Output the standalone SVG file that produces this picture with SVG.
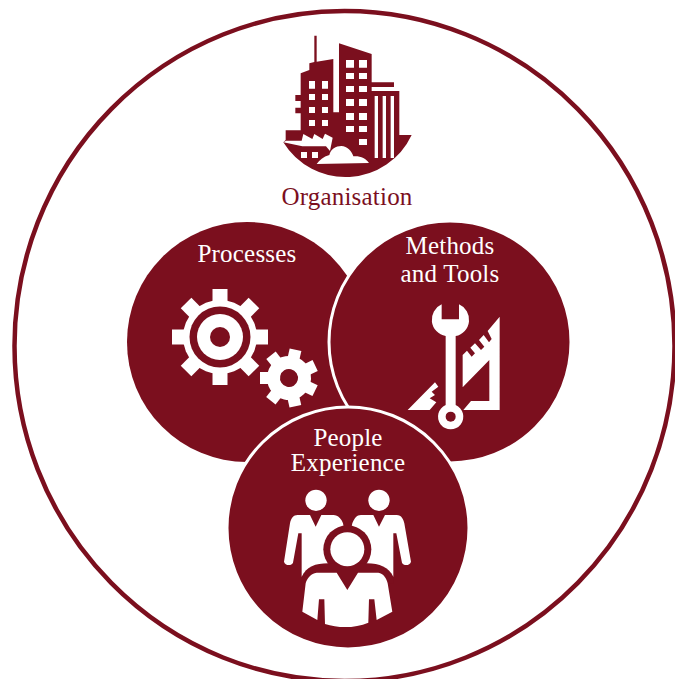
<svg xmlns="http://www.w3.org/2000/svg" width="675" height="679" viewBox="0 0 675 679">
<style>
.lbl{font-family:"Liberation Serif","DejaVu Serif",serif;font-size:25px;letter-spacing:.2px;text-anchor:middle}
.w{fill:#fff}.d{fill:#7b0f1e}
</style>
<rect width="675" height="679" fill="#fff"/>
<g id="organisation">
<ellipse cx="344.500" cy="346" rx="330" ry="335" fill="none" stroke="#7b0f1e" stroke-width="4.500"/>
<g transform="translate(270 25) scale(.3333)">
<path class="d" d="M92 145L118 135V115L133 111V32H140V110L190 102V262H207V55L305 87V172H372V186H305V198H388V330H425A219 219 0 0 1 40 352L47 345V316H92V265H76V248H92V228H76V210H92Z"/>
<path class="w" d="M40 352L48 347L95 347L100 327L127 342L133 327L158 342L165 326L188 338L180 378L168 364H97Z"/>
<path class="w" d="M140 417C148 405 160 395 178 390C182 372 198 363 214 363C232 364 245 378 250 394C270 392 288 400 297 414Z"/>
<path class="w" d="M228 105h24v23h-24zM267 105h24v23h-24zM228 144h24v18h-24zM267 144h24v18h-24zM228 183h24v18h-24zM267 183h24v18h-24zM228 222h24v21h-24zM267 222h24v21h-24zM228 264h24v21h-24zM267 264h24v21h-24zM228 303h24v18h-24zM267 303h24v18h-24zM267 342h24v18h-24z"/>
<path class="w" d="M117 168h18v23h-18zM156 168h18v23h-18zM117 207h18v18h-18zM156 207h18v18h-18zM117 246h18v18h-18zM156 246h18v18h-18zM117 285h18v18h-18zM156 285h18v18h-18zM93 381h18v18h-18zM126 381h18v18h-18z"/>
<path class="w" d="M314 213h10v186h-10zM338 213h10v186h-10zM362 213h10v186h-10z"/>
</g>
<text class="lbl d" x="347" y="205">Organisation</text>
</g>
<g id="processes">
<circle cx="247" cy="342" r="120" class="d"/>
<text class="lbl w" x="247" y="262">Processes</text>
<g transform="translate(220 337)">
<circle r="37" class="w"/>
<g class="w"><path d="M-7.500-48h15v14h-15z"/><path d="M-7.500-48h15v14h-15z" transform="rotate(45)"/><path d="M-7.500-48h15v14h-15z" transform="rotate(90)"/><path d="M-7.500-48h15v14h-15z" transform="rotate(135)"/><path d="M-7.500-48h15v14h-15z" transform="rotate(180)"/><path d="M-7.500-48h15v14h-15z" transform="rotate(225)"/><path d="M-7.500-48h15v14h-15z" transform="rotate(270)"/><path d="M-7.500-48h15v14h-15z" transform="rotate(315)"/></g>
<circle r="30.500" class="d"/><circle r="23" class="w"/><circle r="10" class="d"/>
</g>
<g transform="translate(289 378) rotate(13)">
<circle r="22" class="w"/>
<g class="w"><path d="M-6-29h12v10h-12z"/><path d="M-6-29h12v10h-12z" transform="rotate(51.400)"/><path d="M-6-29h12v10h-12z" transform="rotate(102.900)"/><path d="M-6-29h12v10h-12z" transform="rotate(154.300)"/><path d="M-6-29h12v10h-12z" transform="rotate(205.700)"/><path d="M-6-29h12v10h-12z" transform="rotate(257.100)"/><path d="M-6-29h12v10h-12z" transform="rotate(308.600)"/></g>
<circle r="9" class="d"/>
</g>
</g>
<g id="methods">
<circle cx="450" cy="342" r="121" class="d" stroke="#fff" stroke-width="3"/>
<text class="lbl w" x="450" y="254">Methods</text>
<text class="lbl w" x="450" y="282">and Tools</text>
<g transform="translate(395 295) scale(.3333)">
<path class="w" d="M314 65V345H205L228 318H283V195L203 277V180L216 167 230 185 240 175 226 158 240 145 258 165 268 155 252 135 266 120 282 142 290 132 278 108ZM38 345L120 262 130 275 110 290 120 300 104 310 124 322 104 345Z"/>
<path class="w" d="M152 120H182V330A38 38 0 1 1 152 330Z"/>
<path class="w" d="M140 28V73H192V28A50 50 0 0 1 182 123H152A50 50 0 0 1 140 28Z"/>
<circle cx="167" cy="365" r="15" class="d"/>
</g>
</g>
<g id="people">
<circle cx="348" cy="528" r="121" class="d" stroke="#fff" stroke-width="3"/>
<text class="lbl w" x="348" y="446">People</text>
<text class="lbl w" x="348" y="471">Experience</text>
<g transform="translate(275 480) scale(.3333)">
<circle cx="123" cy="61" r="32" class="w"/><circle cx="312" cy="61" r="32" class="w"/>
<path class="w" d="M68 105H105L122 140 139 105H175C190 105 200 118 204 130L217 200V270L80 290V160H70L54 248C50 258 30 258 27 245L45 130C48 115 55 105 68 105Z"/>
<path class="w" d="M258 105H295L312 140 330 105H365C380 105 385 118 388 130L408 245C405 258 385 258 381 248L364 160H355V290L217 270V200L232 130C238 115 245 105 258 105Z"/>
<circle cx="217" cy="208" r="72" class="d"/>
<path class="d" d="M80 290C95 260 120 250 160 250H275C315 250 340 262 355 290V310H80Z"/>
<circle cx="217" cy="208" r="51" class="w"/>
<path class="w" d="M125 278H185L217 330 249 278H310C325 280 335 295 338 310L352 395 305 420 298 358H282L280 428C240 445 190 445 150 432L148 358H132L127 420 82 395 92 310C96 295 108 280 125 278Z"/>
</g>
</g>
</svg>
